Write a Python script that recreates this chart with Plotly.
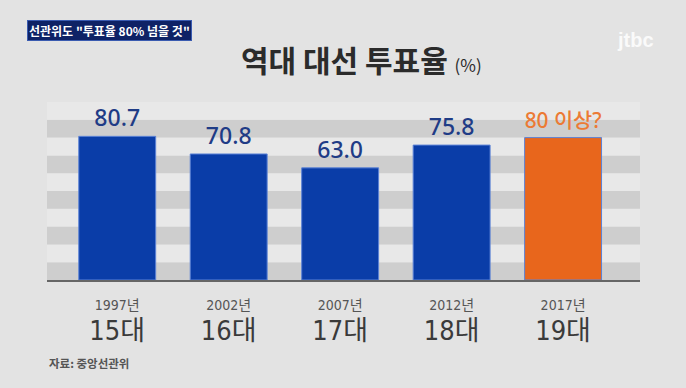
import plotly.graph_objects as go

years = ["1997년", "2002년", "2007년", "2012년", "2017년"]
terms = ["15대", "16대", "17대", "18대", "19대"]
turnout = [80.7, 70.8, 63.0, 75.8, 80.0]
value_labels = ["80.7", "70.8", "63.0", "75.8", "80 이상?"]
bar_colors = ["#0a3da8", "#0a3da8", "#0a3da8", "#0a3da8", "#e8661c"]
label_colors = ["#1f3c86", "#1f3c86", "#1f3c86", "#1f3c86", "#ec7a34"]

x = list(range(len(years)))
ticktext = [f"<span style='font-size:14px;color:#555'>{y}</span><br><span style='font-size:27px'>{t}</span>"
            for y, t in zip(years, terms)]

fig = go.Figure()
fig.add_trace(go.Bar(
    x=x, y=turnout, width=0.69,
    marker=dict(color=bar_colors, line=dict(color="#5b82d6", width=1)),
    text=value_labels, textposition="outside",
    textfont=dict(size=23, color=label_colors, family="Noto Sans, Liberation Sans, Noto Sans CJK KR", weight=500),
    cliponaxis=False, hoverinfo="skip",
))

shapes = []
for lo in range(0, 100, 20):
    shapes.append(dict(type="rect", xref="paper", yref="y", x0=0, x1=1, y0=lo, y1=lo + 10,
                       fillcolor="#cecece", line=dict(width=0), layer="below"))
    shapes.append(dict(type="rect", xref="paper", yref="y", x0=0, x1=1, y0=lo + 10, y1=lo + 20,
                       fillcolor="#e8e8e8", line=dict(width=0), layer="below"))

fig.update_layout(
    width=686, height=388,
    margin=dict(l=47, r=46, t=102, b=108),
    paper_bgcolor="#e3e3e3", plot_bgcolor="#e6e6e6",
    showlegend=False, bargap=0.3,
    shapes=shapes,
    font=dict(family="DejaVu Sans Condensed, Liberation Sans, Noto Sans CJK KR", color="#3a3a3a"),
    xaxis=dict(tickmode="array", tickvals=x, ticktext=ticktext, range=[-0.63, 4.69],
               showgrid=False, zeroline=False, showline=True, linecolor="#666666", linewidth=2,
               ticks="", tickfont=dict(size=23, color="#3a3a3a")),
    yaxis=dict(range=[0, 100], showgrid=False, zeroline=False, showticklabels=False, showline=False),
    annotations=[
        dict(text="<b>역대 대선 투표율</b> <span style='font-size:17px'>(%)</span>", xref="paper", yref="paper",
             x=0.5, y=1, xanchor="center", yanchor="middle", yshift=43, xshift=18, showarrow=False,
             font=dict(size=30, color="#2b2b2b", family="Noto Sans CJK KR")),
        dict(text="<b>선관위도 \"투표율 80% 넘을 것\"</b>", xref="paper", yref="paper",
             x=0, y=1, xanchor="left", yanchor="middle", xshift=-20, yshift=72, showarrow=False,
             bgcolor="#0e2266", bordercolor="#3a5bb0", borderwidth=1, borderpad=1,
             font=dict(size=12, color="#ffffff", family="Noto Sans CJK KR")),
        dict(text="<b>jtbc</b>", xref="paper", yref="paper", x=1, y=1, xanchor="right", yanchor="middle",
             xshift=16, yshift=62, showarrow=False,
             font=dict(size=20, color="#fafafa", family="Liberation Sans")),
        dict(text="<b>자료: 중앙선관위</b>", xref="paper", yref="paper", x=0, y=0, xanchor="left", yanchor="middle",
             yshift=-83, showarrow=False,
             font=dict(size=11.5, color="#555555", family="Noto Sans CJK KR")),
    ],
)

fig.write_html("out.html", config={"displayModeBar": False},
               post_script="document.body.style.margin='0';document.body.style.padding='0';")
